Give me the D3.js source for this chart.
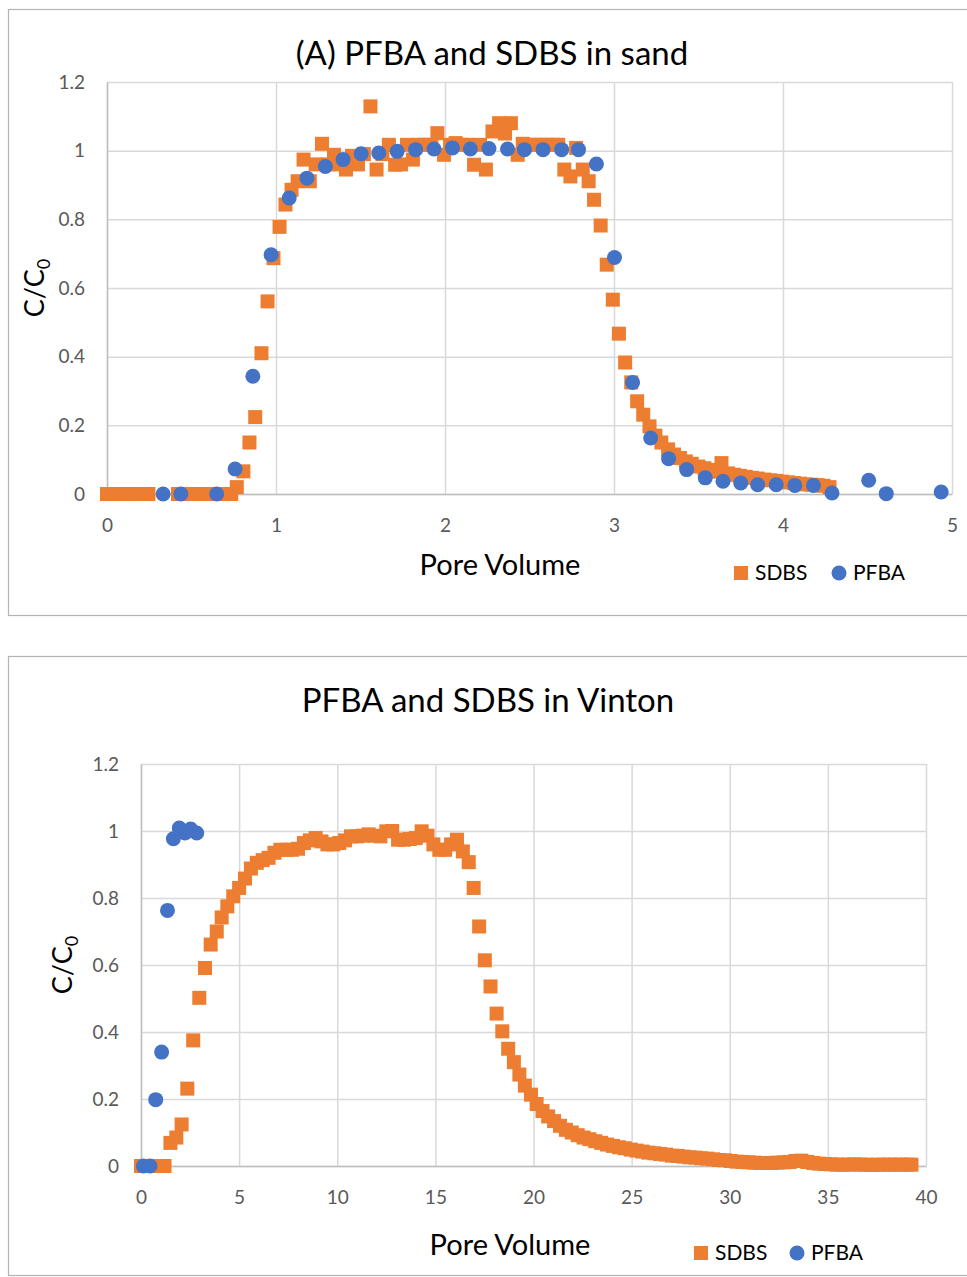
<!DOCTYPE html>
<html>
<head>
<meta charset="utf-8">
<script src="https://cdnjs.cloudflare.com/ajax/libs/d3/7.8.5/d3.min.js"></script>
<style>
body { margin: 0; background: #fff; }
text { font-family: Lato, "Open Sans", sans-serif; }
</style>
</head>
<body>
<svg width="967" height="1277"></svg>
<script>
// colours used by both charts
const sdbsColor = "#ED7D31";
const pfbaColor = "#4472C4";

// (A) sand column - SDBS (squares)
const sandSdbsPV = [0, 0.035, 0.07, 0.105, 0.14, 0.175, 0.21, 0.245,
  0.42, 0.455, 0.49, 0.53, 0.565, 0.6, 0.635, 0.67, 0.705, 0.735,
  0.768, 0.807, 0.843, 0.877, 0.914, 0.95, 0.985, 1.021, 1.056, 1.092, 1.128, 1.163,
  1.2, 1.235, 1.272, 1.307, 1.343, 1.378, 1.414, 1.45, 1.485, 1.52, 1.559, 1.595,
  1.63, 1.668, 1.705, 1.74, 1.775, 1.81, 1.847, 1.883, 1.919, 1.955, 1.994, 2.03,
  2.063, 2.1, 2.135, 2.172, 2.207, 2.242, 2.281, 2.32, 2.355, 2.39, 2.43, 2.46,
  2.5, 2.535, 2.57, 2.605, 2.64, 2.67, 2.706, 2.742, 2.776, 2.815, 2.85, 2.882,
  2.921, 2.957, 2.993, 3.029, 3.066, 3.102, 3.137, 3.173, 3.21, 3.245, 3.28, 3.32,
  3.355, 3.39, 3.425, 3.46, 3.5, 3.535, 3.57, 3.605, 3.636, 3.675, 3.71, 3.745,
  3.78, 3.815, 3.85, 3.89, 3.925, 3.96, 3.995, 4.03, 4.065, 4.1, 4.135, 4.17,
  4.205, 4.24, 4.275];
const sandSdbsC = [0, 0, 0, 0, 0, 0, 0, 0,
  0, 0, 0, 0, 0, 0, 0, 0, 0, 0,
  0.02, 0.066, 0.15, 0.224, 0.41, 0.561, 0.687, 0.778, 0.843, 0.886, 0.911, 0.974,
  0.911, 0.96, 1.02, 0.96, 0.988, 0.96, 0.945, 0.985, 0.96, 0.99, 1.129, 0.945,
  0.99, 1.017, 0.959, 0.96, 1.017, 0.974, 1.017, 1.017, 1.017, 1.051, 0.988, 1.017,
  1.022, 1.017, 1.017, 0.959, 1.017, 0.945, 1.056, 1.08, 1.05, 1.08, 0.988, 1.02,
  1.017, 1.017, 1.017, 1.017, 1.017, 1.017, 0.945, 0.925, 1.008, 0.945, 0.911, 0.857,
  0.782, 0.668, 0.566, 0.467, 0.383, 0.325, 0.27, 0.231, 0.197, 0.17, 0.15, 0.13,
  0.115, 0.105, 0.095, 0.088, 0.08, 0.075, 0.07, 0.065, 0.09, 0.06, 0.056, 0.053,
  0.05, 0.047, 0.045, 0.042, 0.04, 0.038, 0.036, 0.034, 0.032, 0.03, 0.028, 0.027,
  0.026, 0.024, 0.02];

// (A) sand column - PFBA (circles)
const sandPfbaPV = [0.332, 0.437, 0.649, 0.758, 0.863, 0.971, 1.078, 1.183, 1.292, 1.397,
  1.504, 1.608, 1.717, 1.826, 1.935, 2.044, 2.15, 2.26, 2.37, 2.47, 2.58, 2.69, 2.79,
  2.896, 3.003, 3.11, 3.217, 3.323, 3.43, 3.54, 3.645, 3.75, 3.85, 3.96, 4.07, 4.18,
  4.29, 4.507, 4.611, 4.936];
const sandPfbaC = [0, 0, 0, 0.073, 0.343, 0.697, 0.862, 0.92, 0.954, 0.974,
  0.991, 0.993, 0.998, 1.003, 1.005, 1.008, 1.005, 1.006, 1.005, 1.003, 1.003, 1.003, 1.003,
  0.961, 0.689, 0.325, 0.163, 0.103, 0.071, 0.047, 0.037, 0.032, 0.027, 0.027, 0.025, 0.025,
  0.003, 0.04, 0.001, 0.006];

// Vinton soil - SDBS (squares)
const vintonSdbsPV = [0, 0.3, 0.6, 0.9, 1.2, 1.5, 1.8, 2.07, 2.36, 2.66, 2.97, 3.26, 3.55,
  3.86, 4.11, 4.4, 4.7, 5.0, 5.3, 5.6, 5.9, 6.2, 6.5, 6.8, 7.1, 7.4, 7.7, 8.0, 8.3, 8.6,
  8.9, 9.2, 9.5, 9.8, 10.1, 10.4, 10.7, 11.0, 11.3, 11.6, 11.9, 12.2, 12.5, 12.8, 13.1,
  13.4, 13.7, 14.0, 14.3, 14.6, 14.9, 15.2, 15.5, 15.8, 16.1, 16.4, 16.7, 16.95, 17.23,
  17.52, 17.81, 18.12, 18.41, 18.71, 19.0, 19.28, 19.56, 19.87, 20.16, 20.46, 20.75,
  21.05, 21.35, 21.65, 21.95, 22.25, 22.55, 22.85, 23.15, 23.45, 23.75, 24.05, 24.35,
  24.65, 24.95, 25.25, 25.55, 25.85, 26.15, 26.45, 26.75, 27.05, 27.35, 27.65, 27.95,
  28.25, 28.55, 28.85, 29.15, 29.45, 29.75, 30.05, 30.35, 30.65, 30.95, 31.25, 31.55,
  31.85, 32.15, 32.45, 32.75, 33.05, 33.35, 33.65, 33.95, 34.25, 34.55, 34.85, 35.15,
  35.45, 35.75, 36.05, 36.35, 36.65, 36.95, 37.25, 37.55, 37.85, 38.15, 38.45, 38.75,
  39.05, 39.26];
const vintonSdbsC = [0, 0, 0, 0, 0, 0.069, 0.085, 0.124, 0.231, 0.375, 0.502, 0.591, 0.661,
  0.7, 0.742, 0.775, 0.805, 0.83, 0.858, 0.888, 0.905, 0.913, 0.92, 0.935, 0.944, 0.944,
  0.944, 0.947, 0.964, 0.972, 0.979, 0.969, 0.96, 0.96, 0.964, 0.972, 0.984, 0.984, 0.986,
  0.99, 0.986, 0.984, 0.999, 1.0, 0.974, 0.974, 0.976, 0.979, 0.999, 0.986, 0.96, 0.944,
  0.944, 0.96, 0.974, 0.939, 0.907, 0.83, 0.715, 0.614, 0.536, 0.455, 0.402, 0.35, 0.31,
  0.273, 0.24, 0.213, 0.185, 0.164, 0.148, 0.134, 0.12, 0.108, 0.1, 0.092, 0.085, 0.08,
  0.074, 0.069, 0.064, 0.06, 0.056, 0.053, 0.049, 0.046, 0.043, 0.04, 0.038, 0.036, 0.034,
  0.031, 0.03, 0.028, 0.026, 0.025, 0.023, 0.022, 0.02, 0.018, 0.017, 0.015, 0.013, 0.012,
  0.011, 0.01, 0.009, 0.009, 0.009, 0.01, 0.011, 0.012, 0.015, 0.016, 0.012, 0.009, 0.007,
  0.006, 0.005, 0.004, 0.004, 0.004, 0.005, 0.004, 0.004, 0.003, 0.004, 0.004, 0.004,
  0.004, 0.004, 0.004, 0.004];

// Vinton soil - PFBA (circles)
const vintonPfbaPV = [0.12, 0.46, 0.75, 1.05, 1.35, 1.65, 1.95, 2.24, 2.53, 2.84];
const vintonPfbaC = [0, 0, 0.198, 0.34, 0.763, 0.977, 1.009, 0.994, 1.006, 0.994];

// ticks
const yTicks = [0, 0.2, 0.4, 0.6, 0.8, 1, 1.2];
const sandXTicks = [0, 1, 2, 3, 4, 5];
const vintonXTicks = [0, 5, 10, 15, 20, 25, 30, 35, 40];

let svg = d3.select("svg");

function zip(xs, ys) {
  return xs.map(function(x, i) {
    return { x: x, y: ys[i] };
  });
}

function drawChart(c) {
  let g = svg.append("g");

  // outer chart frame
  g.append("rect")
    .attr("x", c.frame[0] + 0.5)
    .attr("y", c.frame[1] + 0.5)
    .attr("width", c.frame[2])
    .attr("height", c.frame[3])
    .attr("fill", "#fff")
    .attr("stroke", "#b4b4b4")
    .attr("stroke-width", 1.2);

  let xScale = d3.scaleLinear().domain(c.xDomain).range([c.left, c.right]);
  let yScale = d3.scaleLinear().domain([0, 1.2]).range([c.bottom, c.top]);

  // gridlines
  g.append("g")
    .attr("transform", "translate(0," + c.bottom + ")")
    .call(d3.axisBottom(xScale).tickValues(c.xTicks).tickSize(-(c.bottom - c.top)).tickFormat(""))
    .call(function(a) {
      a.select(".domain").remove();
      a.selectAll("line").attr("stroke", "#d9d9d9").attr("stroke-width", 1.5);
    });
  g.append("g")
    .attr("transform", "translate(" + c.left + ",0)")
    .call(d3.axisLeft(yScale).tickValues(yTicks).tickSize(-(c.right - c.left)).tickFormat(""))
    .call(function(a) {
      a.select(".domain").remove();
      a.selectAll("line").attr("stroke", "#d9d9d9").attr("stroke-width", 1.5);
    });

  // axis lines + labels
  g.append("g")
    .attr("transform", "translate(0," + c.bottom + ")")
    .call(d3.axisBottom(xScale).tickValues(c.xTicks).tickSize(0).tickPadding(25).tickFormat(function(d) { return d; }))
    .call(function(a) {
      a.select(".domain").attr("stroke", "#bfbfbf").attr("stroke-width", 1.5);
      a.selectAll("text").attr("font-size", 19).attr("fill", "#595959")
        .attr("font-family", "Lato, 'Open Sans', sans-serif");
    });
  g.append("g")
    .attr("transform", "translate(" + c.left + ",0)")
    .call(d3.axisLeft(yScale).tickValues(yTicks).tickSize(0).tickPadding(c.yPad).tickFormat(function(d) { return d; }))
    .call(function(a) {
      a.select(".domain").attr("stroke", "#bfbfbf").attr("stroke-width", 1.5);
      a.selectAll("text").attr("font-size", 19).attr("fill", "#595959")
        .attr("font-family", "Lato, 'Open Sans', sans-serif");
    });

  // SDBS squares
  let sq = 14;
  g.append("g")
    .selectAll("rect")
    .data(zip(c.sdbsX, c.sdbsY))
    .enter()
    .append("rect")
    .attr("x", function(d) { return xScale(d.x) - sq / 2; })
    .attr("y", function(d) { return yScale(d.y) - sq / 2; })
    .attr("width", sq)
    .attr("height", sq)
    .attr("fill", sdbsColor);

  // PFBA circles
  g.append("g")
    .selectAll("circle")
    .data(zip(c.pfbaX, c.pfbaY))
    .enter()
    .append("circle")
    .attr("cx", function(d) { return xScale(d.x); })
    .attr("cy", function(d) { return yScale(d.y); })
    .attr("r", 7.5)
    .attr("fill", pfbaColor);

  // title
  g.append("text")
    .attr("x", c.titleX)
    .attr("y", c.titleY)
    .attr("text-anchor", "middle")
    .attr("font-size", 33)
    .attr("fill", "#000")
    .text(c.title);

  // x axis title
  g.append("text")
    .attr("x", c.xTitle[0])
    .attr("y", c.xTitle[1])
    .attr("text-anchor", "middle")
    .attr("font-size", 29)
    .attr("fill", "#000")
    .text("Pore Volume");

  // y axis title C/C0
  let yt = g.append("text")
    .attr("transform", "translate(" + c.yTitle[0] + "," + c.yTitle[1] + ") rotate(-90)")
    .attr("text-anchor", "middle")
    .attr("font-size", 27)
    .attr("fill", "#000");
  yt.append("tspan").text("C/C");
  yt.append("tspan").attr("font-size", 18).attr("dy", 6).text("0");

  // legend
  let lg = g.append("g").attr("transform", "translate(" + c.legend[0] + "," + c.legend[1] + ")");
  lg.append("rect").attr("x", -7).attr("y", -7).attr("width", 14).attr("height", 14).attr("fill", sdbsColor);
  lg.append("text").attr("x", 14).attr("y", 7).attr("font-size", 21).attr("fill", "#000").text("SDBS");
  lg.append("circle").attr("cx", c.legendGap).attr("cy", 0).attr("r", 7.5).attr("fill", pfbaColor);
  lg.append("text").attr("x", c.legendGap + 14).attr("y", 7).attr("font-size", 21).attr("fill", "#000").text("PFBA");
}

drawChart({
  frame: [8, 9, 970, 606],
  xDomain: [0, 5],
  left: 107, right: 952, top: 82, bottom: 494,
  xTicks: sandXTicks,
  yPad: 22,
  sdbsX: sandSdbsPV, sdbsY: sandSdbsC,
  pfbaX: sandPfbaPV, pfbaY: sandPfbaC,
  title: "(A) PFBA and SDBS in sand",
  titleX: 492, titleY: 65,
  xTitle: [500, 575],
  yTitle: [44, 288],
  legend: [741, 573],
  legendGap: 98
});

drawChart({
  frame: [8, 656, 970, 619],
  xDomain: [0, 40],
  left: 141, right: 926, top: 764, bottom: 1166,
  xTicks: vintonXTicks,
  yPad: 22,
  sdbsX: vintonSdbsPV, sdbsY: vintonSdbsC,
  pfbaX: vintonPfbaPV, pfbaY: vintonPfbaC,
  title: "PFBA and SDBS in Vinton",
  titleX: 488, titleY: 712,
  xTitle: [510, 1255],
  yTitle: [72, 965],
  legend: [701, 1253],
  legendGap: 96
});
</script>
</body>
</html>
